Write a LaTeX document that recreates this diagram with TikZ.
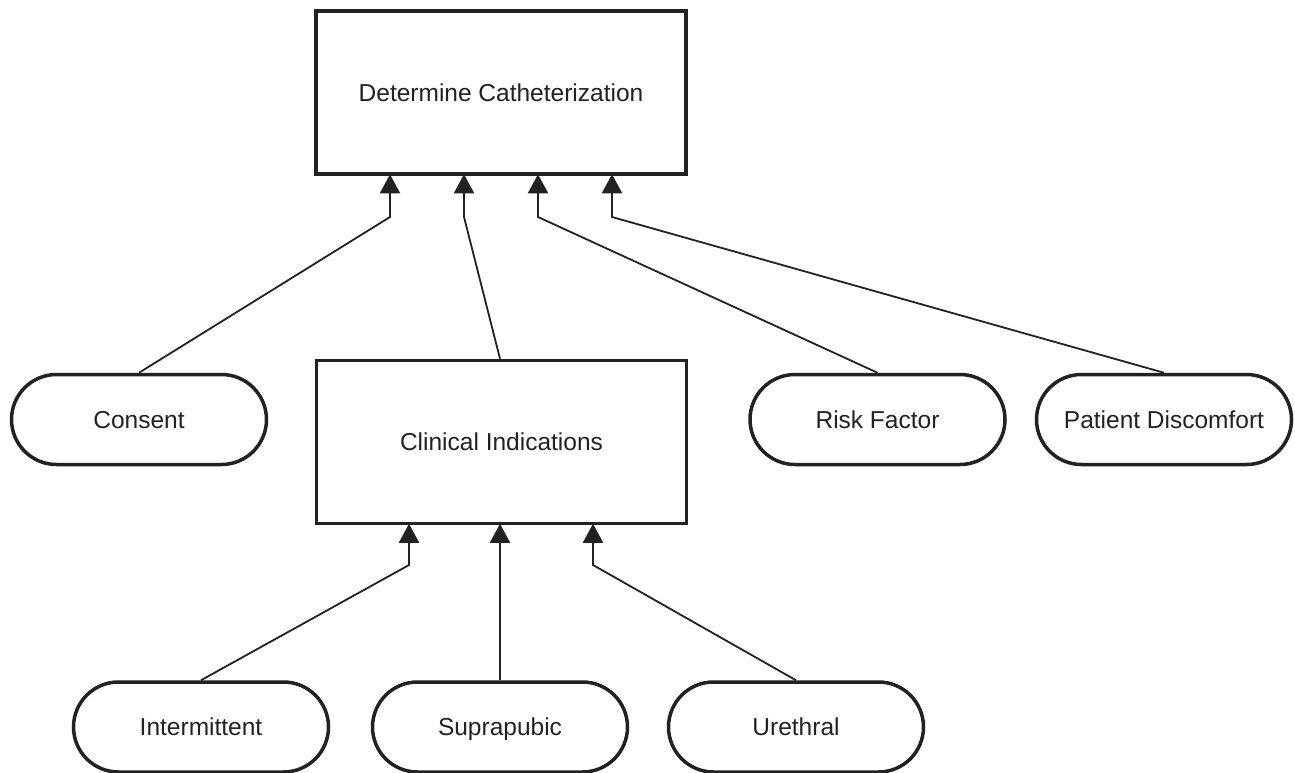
\documentclass[tikz,border=0pt]{standalone}
\usepackage{fontspec}
\setmainfont{Liberation Sans}
\usetikzlibrary{arrows.meta}
\definecolor{ink}{HTML}{222222}
\tikzset{
  lbl/.style={font=\fontsize{24.5}{29}\selectfont, text=ink,
    text height=17.6pt, text depth=0pt},
  box/.style={lbl, draw=ink, line width=3.5pt, fill=white, inner sep=0pt,
    minimum width=370pt, minimum height=163pt},
  pill/.style={lbl, draw=ink, line width=3.5pt, fill=white, inner sep=0pt,
    minimum width=255pt, minimum height=90pt, rounded corners=45pt},
  conn/.style={draw=ink, line width=1.8pt,
    -{Triangle[width=20pt,length=19pt]}, shorten >=-1.5pt},
}
\begin{document}
\begin{tikzpicture}[x=1pt,y=-1pt]
\useasboundingbox (0,0) rectangle (1295,773);
\fill[white] (0,0) rectangle (1295,773);
% nodes
\node[box] (top) at (501,92.5) {Determine Catheterization};
\node[box] (clin) at (501.5,442) {Clinical Indications};
\node[pill] (consent) at (139,419.5) {Consent};
\node[pill] (risk) at (877.5,419.5) {Risk Factor};
\node[pill] (disc) at (1164,419.5) {Patient Discomfort};
\node[pill] (inter) at (201,727) {Intermittent};
\node[pill] (supra) at (500,727) {Suprapubic};
\node[pill] (ureth) at (796,727) {Urethral};
% bend coordinates
\coordinate (b1) at (390,217);
\coordinate (b2) at (464,217);
\coordinate (b3) at (538,217);
\coordinate (b4) at (612,217);
\coordinate (c1) at (409,565);
\coordinate (c2) at (500,565);
\coordinate (c3) at (593,565);
% connectors
\draw[conn] (consent.north) -- (b1) -- (b1 |- top.south);
\draw[conn] (clin.north -| 500,0) -- (b2) -- (b2 |- top.south);
\draw[conn] (risk.north) -- (b3) -- (b3 |- top.south);
\draw[conn] (disc.north) -- (b4) -- (b4 |- top.south);
\draw[conn] (inter.north) -- (c1) -- (c1 |- clin.south);
\draw[conn] (supra.north) -- (c2) -- (c2 |- clin.south);
\draw[conn] (ureth.north) -- (c3) -- (c3 |- clin.south);
\end{tikzpicture}
\end{document}
